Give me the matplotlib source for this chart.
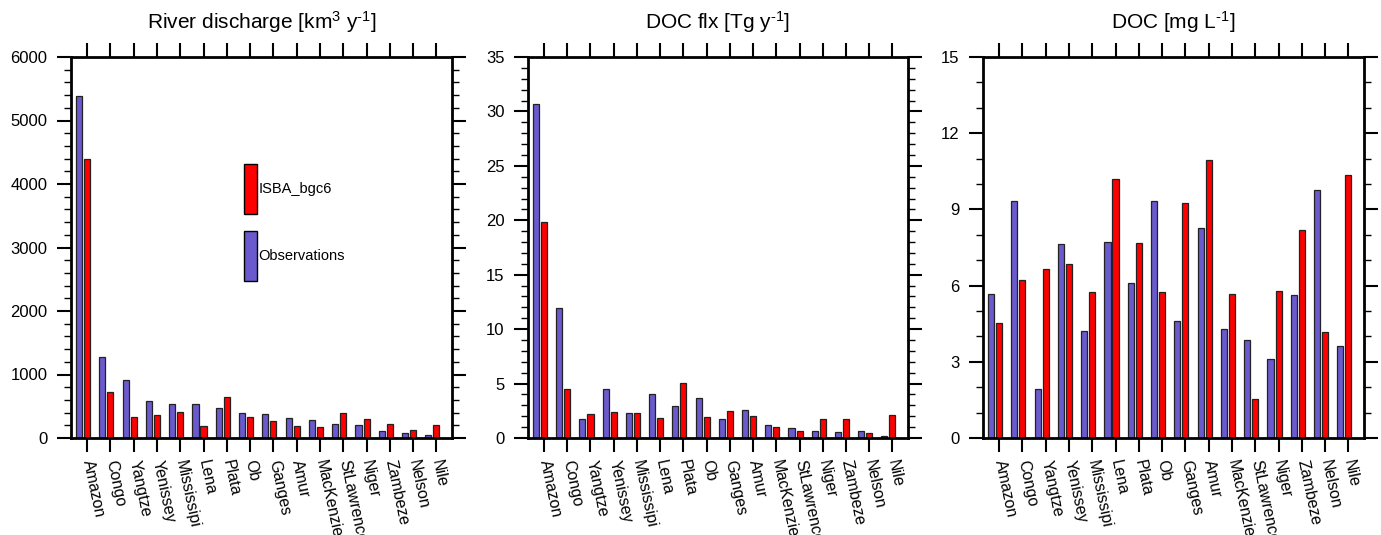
import numpy as np
import matplotlib
matplotlib.use('Agg')
import matplotlib.pyplot as plt
from matplotlib.patches import Rectangle

plt.rcParams['font.family'] = ['Liberation Sans', 'DejaVu Sans']
plt.rcParams['mathtext.fontset'] = 'custom'
plt.rcParams['mathtext.rm'] = 'Liberation Sans'
plt.rcParams['mathtext.it'] = 'Liberation Sans'

rivers = ['Amazon', 'Congo', 'Yangtze', 'Yenissey', 'Mississipi', 'Lena', 'Plata', 'Ob',
          'Ganges', 'Amur', 'MacKenzie', 'StLawrence', 'Niger', 'Zambeze', 'Nelson', 'Nile']

# river discharge [km3/y]
q_obs = [5390, 1270, 908, 588, 541, 530, 478, 399, 378, 310, 283, 226, 205, 110, 73, 42]
q_isba = [4400, 724, 331, 357, 404, 184, 651, 336, 262, 184, 173, 394, 299, 215, 121, 210]

# DOC flux [Tg/y]
f_obs = [30.7, 11.9, 1.75, 4.47, 2.27, 4.07, 2.91, 3.67, 1.75, 2.54, 1.22, 0.89, 0.64, 0.58, 0.67, 0.15]
f_isba = [19.85, 4.47, 2.2, 2.39, 2.33, 1.87, 5.02, 1.9, 2.45, 1.99, 0.98, 0.61, 1.71, 1.75, 0.46, 2.14]

# DOC concentration [mg/L]
c_obs = [5.68, 9.34, 1.92, 7.65, 4.2, 7.7, 6.09, 9.34, 4.59, 8.27, 4.3, 3.85, 3.12, 5.64, 9.75, 3.61]
c_isba = [4.51, 6.21, 6.65, 6.84, 5.76, 10.18, 7.68, 5.73, 9.25, 10.96, 5.67, 1.54, 5.77, 8.19, 4.17, 10.35]

titles = ['River discharge [km$^3$ y$^{\u2010 1}$]', 'DOC flx [Tg y$^{\u2010 1}$]', 'DOC [mg L$^{\u2010 1}$]']
ylims = [6000, 35, 15]
majors = [1000, 5, 3]
minors = [200, 1, 1]

blue = '#6a5acd'
red = '#ff0000'

fig = plt.figure(figsize=(13.81, 5.35), dpi=100)
lefts = [71, 528, 983]
widths = [381, 380, 381]
data = [(q_obs, q_isba), (f_obs, f_isba), (c_obs, c_isba)]

x = np.arange(len(rivers))
w = 0.26
for i in range(3):
    ax = fig.add_axes([lefts[i] / 1381, 97 / 535, widths[i] / 1381, 381 / 535])
    obs, isba = data[i]
    ax.bar(x - 0.345, obs, w, color=blue, edgecolor='#222222', linewidth=0.9)
    ax.bar(x, isba, w, color=red, edgecolor='#222222', linewidth=0.9)
    ax.set_xlim(-0.69, 15.67)
    ax.set_ylim(0, ylims[i])
    ax.set_yticks(np.arange(0, ylims[i] + 0.001, majors[i]))
    ax.set_yticks(np.arange(0, ylims[i] + 0.001, minors[i]), minor=True)
    ax.set_xticks(x)
    ax.set_xticklabels(rivers, rotation=-78, ha='left', va='center',
                       rotation_mode='anchor', fontsize=11.5)
    ax.tick_params(axis='x', which='both', direction='out', top=True, bottom=True,
                   length=10, width=1.5, pad=6)
    ax.tick_params(axis='y', which='major', direction='out', left=True, right=True,
                   length=10, width=1.5, labelsize=12, pad=7)
    ax.tick_params(axis='y', which='minor', direction='out', left=True, right=True,
                   length=5, width=1.0)
    for s in ax.spines.values():
        s.set_linewidth(2)
    ax.set_title(titles[i], fontsize=15, pad=20)

    if i == 0:
        ax.add_patch(Rectangle((0.454, 0.588), 0.034, 0.131, transform=ax.transAxes,
                               facecolor=red, edgecolor='black', linewidth=1))
        ax.add_patch(Rectangle((0.454, 0.412), 0.034, 0.131, transform=ax.transAxes,
                               facecolor=blue, edgecolor='black', linewidth=1))
        ax.text(0.492, 0.654, 'ISBA_bgc6', transform=ax.transAxes, fontsize=10.5, va='center')
        ax.text(0.492, 0.477, 'Observations', transform=ax.transAxes, fontsize=10.5, va='center')

fig.savefig('out.png', dpi=100)
